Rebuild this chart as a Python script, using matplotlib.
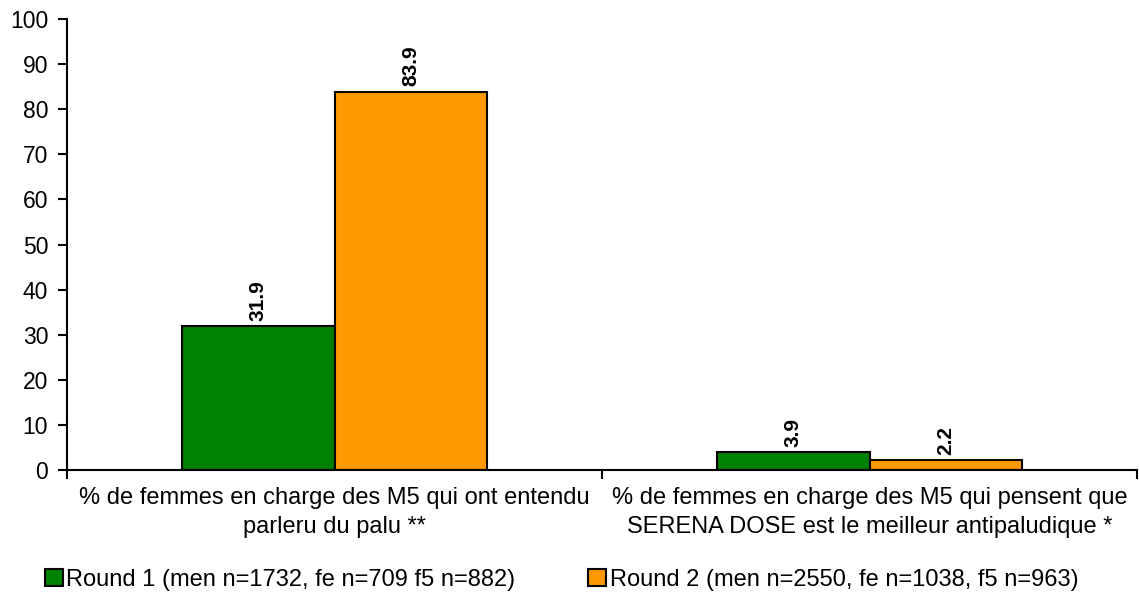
import matplotlib
matplotlib.use("Agg")
import matplotlib.pyplot as plt
from matplotlib.patches import Patch

categories = ["% de femmes en charge des M5 qui ont entendu\nparleru du palu **",
              "% de femmes en charge des M5 qui pensent que\nSERENA DOSE est le meilleur antipaludique *"]
series_names = ["Round 1 (men n=1732, fe n=709 f5 n=882)",
                "Round 2 (men n=2550, fe n=1038, f5 n=963)"]
round1 = [31.9, 3.9]
round2 = [83.9, 2.2]
colors = ["#008000", "#FF9900"]

plt.rcParams['font.family'] = ['Liberation Sans', 'DejaVu Sans']

fig = plt.figure(figsize=(11.39, 5.99), dpi=100)
ax = fig.add_axes([67/1139, 1-470/599, (1137-67)/1139, (470-19)/599])

w = 0.285
xs = list(range(len(categories)))
for vals, off, col in [(round1, -w/2, colors[0]), (round2, w/2, colors[1])]:
    bars = ax.bar([x + off for x in xs], vals, width=w, color=col, edgecolor="black", linewidth=1.5, zorder=2)
    for b, v in zip(bars, vals):
        ax.annotate(f"{v:.1f}", (b.get_x() + b.get_width()/2, v), xytext=(0, 4),
                    textcoords="offset points", ha="center", va="bottom", rotation=90,
                    fontsize=15, fontweight="bold")

ax.set_xlim(-0.5, len(categories) - 0.5)
ax.set_ylim(0, 100)
ax.set_yticks(range(0, 101, 10))
ax.tick_params(axis="y", labelsize=16.5, direction="out", length=6.5, width=1.5, pad=7)
ax.set_xticks([-0.5, 0.5, 1.5])
ax.set_xticklabels([])
ax.tick_params(axis="x", which="major", direction="out", length=6.5, width=1.5)
ax.set_xticks(xs, minor=True)
ax.set_xticklabels(categories, minor=True, fontsize=17, linespacing=1.45)
ax.tick_params(axis="x", which="minor", length=0, pad=12)

for s in ["top", "right"]:
    ax.spines[s].set_visible(False)
for s in ["left", "bottom"]:
    ax.spines[s].set_linewidth(1.5)

handles = [Patch(facecolor=c, edgecolor="black", linewidth=1.5) for c in colors]
fig.legend(handles, series_names, loc="lower center", bbox_to_anchor=(0.493, -0.022), ncol=2,
           frameon=False, fontsize=17, handlelength=0.75, handleheight=0.75, handletextpad=0.15,
           columnspacing=3.1)

fig.savefig("out.png", dpi=100)
